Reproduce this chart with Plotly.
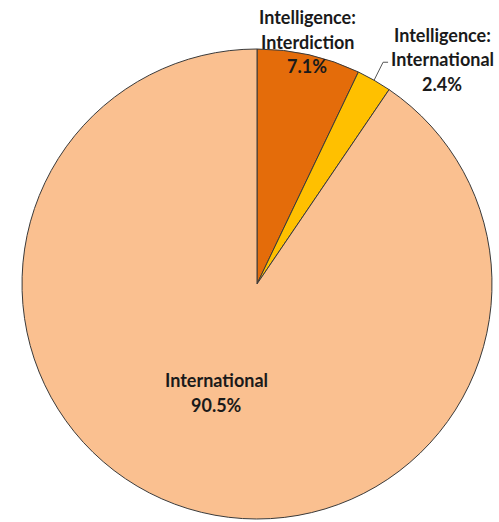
import math
import plotly.graph_objects as go

categories = ["Intelligence: Interdiction", "Intelligence: International", "International"]
label_lines = [["Intelligence:", "Interdiction"], ["Intelligence:", "International"], ["International"]]
values = [7.1, 2.4, 90.5]
colors = ["#E46C0A", "#FFC000", "#FAC090"]

W, H = 499, 522
cx, cy, r = 257, 284, 235

fig = go.Figure(go.Pie(
    labels=categories, values=values, sort=False, direction="clockwise", rotation=0,
    marker=dict(colors=colors, line=dict(color="#3a3a3a", width=1)),
    textinfo="none", hoverinfo="label+percent", showlegend=False,
    domain=dict(x=[(cx - r) / W, (cx + r) / W], y=[1 - (cy + r) / H, 1 - (cy - r) / H]),
))

# label anchor positions (pixel centres of first text line) and line spacing
label_pos = [(307, 17), (442, 35), (216, 380)]
spacing = 24.5
font = dict(family="Lato, 'Open Sans', sans-serif", size=18, color="#1a1a1a")

anns = []
for lines, v, (px, py) in zip(label_lines, values, label_pos):
    texts = lines + [f"{v:.1f}%"]
    for i, t in enumerate(texts):
        anns.append(dict(x=px / W, y=1 - (py + i * spacing) / H, xref="paper", yref="paper",
                         text=f"<b>{t}</b>", showarrow=False, font=font,
                         xanchor="center", yanchor="middle"))

# leader line for the small gold slice, from the middle of its arc
mid = (values[0] + values[1] / 2) / sum(values) * 2 * math.pi
x0 = cx + r * math.sin(mid)
y0 = cy - r * math.cos(mid)
shapes = [dict(type="path", xref="paper", yref="paper",
               path=f"M {x0/W},{1-y0/H} L {(x0+9)/W},{1-(y0-18)/H} L {(x0+14)/W},{1-(y0-18)/H}",
               line=dict(color="#555555", width=1))]

fig.update_layout(width=W, height=H, margin=dict(l=0, r=0, t=0, b=0),
                  paper_bgcolor="white", plot_bgcolor="white",
                  annotations=anns, shapes=shapes)
fig.write_html("out.html", config={"displayModeBar": False})

with open("out.html", encoding="utf-8") as f:
    html = f.read()
html = html.replace("<body>", '<body style="margin:0;overflow:hidden">', 1)
with open("out.html", "w", encoding="utf-8") as f:
    f.write(html)
